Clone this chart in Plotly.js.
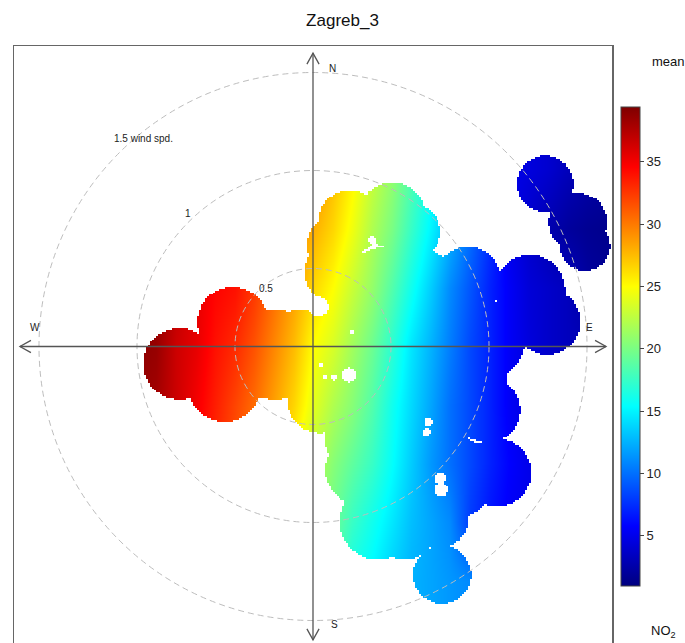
<!DOCTYPE html>
<html>
<head>
<meta charset="utf-8">
<script src="https://cdn.plot.ly/plotly-3.0.1.min.js"></script>
<style>html,body{margin:0;padding:0;overflow:hidden;background:#fff;}#chart{width:685px;height:650px;}</style>
</head>
<body>
<div id="chart"></div>
<script>
// ---- data (display units: 1 unit = radial distance scale) ----
const titleText = "Zagreb_3";
const gridX = [-0.9,-0.8,-0.7,-0.6,-0.5,-0.4,-0.3,-0.2,-0.1,0,0.1,0.2,0.3,0.4,0.5,0.6,0.7,0.8,0.9,1.0,1.1,1.2,1.3,1.4,1.5];
const gridY = [0.9,0.6,0.3,0,-0.3,-0.6,-0.9,-1.2];
const row09 = [39,38,37,36,35,34.5,33.5,32,30.5,29.5,27.5,25.5,23,21,18.5,16,13.5,11,8.5,5,4.5,4,3.2,2.6,2.3];
const row06 = [39,38,37,36,35,34.5,33.5,31.5,29.5,28,26.5,24.5,22,20,17.5,15,12.5,10,7.5,5,3.8,2.8,2.1,1.7,1.5];
const row03 = [39,38.5,37,35.5,34.5,34,32.5,30.5,28.5,26.5,25,23,21,18.5,16,13.5,11,9,7,5.5,4.3,3.8,3.3,2.2,1.8];
const row00 = [39,38.5,36.5,35.5,34,33,31.5,29.5,27.5,25,23.5,21.5,19.5,17,14.5,12.5,10.5,8.5,7,5.5,4.5,3.8,3.3,3,2.8];
const rowM03 = [38.5,38,36.5,35,33.5,32,30.5,28.5,26.5,24,22,20.5,18.5,16,14,12,10,8.5,7,5.5,4.5,4,3.5,3,2.8];
const rowM06 = [38.5,38,36,34.5,33,31.5,29.5,27.5,25,22.5,20.5,19,17.5,15.5,13.5,11.5,10,8.5,7,5.8,5,4.3,3.8,3.3,3];
const rowM09 = [38,37,35.5,34,32.5,30.5,28.5,26,23.5,21,19.5,17.5,16,14.5,13,12,11,8,6.5,5.5,5,4.5,4,3.5,3.2];
const rowM12 = [37.5,36.5,35,33.5,32,30,28,25.5,23,20.5,18.5,16,15,13.5,12.5,12,11.5,11,8,6.5,5.5,5,4.5,4,3.5];
// covered region: union of discs minus small holes
const blobX = [-0.679,-0.408,-0.449,-0.194,-0.066,0.189,0.403,0.505,0.122,0.444,0.791,1.107,1.194,0.878,0.827,0.888,0.939,0.658,0.648,0.240,0.240,0.332,0.036,0.495,1.184,1.352,1.388,0.724,0.469,0.112,0.112,0.469];
const blobY = [-0.089,0.125,-0.196,-0.043,0.033,0.635,0.671,0.584,0.380,0.084,0.339,0.288,0.125,0.033,-0.145,-0.324,-0.645,-1.166,-0.885,-0.477,-0.630,-0.895,-0.273,-0.375,0.829,0.635,0.513,-0.671,-0.936,0.518,0.237,-0.709];
const blobR = [0.184,0.179,0.189,0.230,0.153,0.163,0.168,0.143,0.163,0.434,0.168,0.179,0.168,0.204,0.163,0.168,0.173,0.148,0.143,0.179,0.179,0.194,0.168,0.306,0.143,0.148,0.128,0.204,0.153,0.143,0.102,0.153];
const holeX = [0.301,0.184,0.102,0.061,0.199,0.587,0.577,0.648,0.653,0.026];
const holeY = [0.543,-0.145,-0.156,-0.156,0.074,-0.385,-0.436,-0.671,-0.732,0.202];
const holeR = [0.02,0.036,0.015,0.013,0.01,0.02,0.02,0.031,0.036,0.051];
const circleSpeeds = [0.5, 1, 1.5];
const speedOffset = 0.102;
const colorbarTicks = [5,10,15,20,25,30,35];
const zMin = 0.96, zMax = 39.4;
const compass = ["N","E","S","W"];

// ---- build traces ----
const zGrid = [row09,row06,row03,row00,rowM03,rowM06,rowM09,rowM12];
const jet = [[0,'#00007F'],[0.125,'#0000FF'],[0.25,'#007FFF'],[0.375,'#00FFFF'],[0.5,'#7FFF7F'],[0.625,'#FFFF00'],[0.75,'#FF7F00'],[0.875,'#FF0000'],[1,'#7F0000']];

const mX = [], mY = [];
for (let i = 0; i <= 251; i++) mX.push(+(-0.955 + i*0.01).toFixed(3));
for (let j = 0; j <= 243; j++) mY.push(+(-1.36 + j*0.01).toFixed(3));
const mZ = mY.map(y => mX.map(x => {
  let inside = false;
  for (let k = 0; k < blobX.length; k++) {
    const dx = x-blobX[k], dy = y-blobY[k];
    if (dx*dx+dy*dy <= blobR[k]*blobR[k]) { inside = true; break; }
  }
  if (inside) {
    for (let k = 0; k < holeX.length; k++) {
      const dx = x-holeX[k], dy = y-holeY[k];
      if (dx*dx+dy*dy <= holeR[k]*holeR[k]) { inside = false; break; }
    }
  }
  return inside ? null : 1;
}));

const traces = [
  {type:'heatmap', x:gridX, y:gridY, z:zGrid, zsmooth:'best', colorscale:jet, zmin:zMin, zmax:zMax,
   hoverinfo:'skip',
   colorbar:{x:(621-14)/598, xanchor:'left', xpad:0, y:(644-346.5)/598, yanchor:'middle', ypad:0,
     lenmode:'pixels', len:479, thickness:19, outlinewidth:1, outlinecolor:'#444',
     tickmode:'array', tickvals:colorbarTicks, ticks:'outside', ticklen:4, tickwidth:1, tickcolor:'#444',
     tickfont:{size:13, color:'#222'}}},
  {type:'heatmap', x:mX, y:mY, z:mZ, zsmooth:false, colorscale:[[0,'#ffffff'],[1,'#ffffff']],
   showscale:false, hoverinfo:'skip'}
];

const shapes = [];
circleSpeeds.forEach(s => {
  const u = s - speedOffset;
  shapes.push({type:'circle', xref:'x', yref:'y', x0:-u, x1:u, y0:-u, y1:u, layer:'above',
    line:{color:'#BDBDBD', width:1, dash:'6px,4px'}});
});
const axLine = {color:'#555', width:1.3};
const tipH = 1.495, tipV = 1.497, aL = 0.056, aW = 0.031;
shapes.push({type:'line', xref:'x', yref:'y', x0:-tipH, x1:tipH, y0:0, y1:0, layer:'above', line:axLine});
shapes.push({type:'line', xref:'x', yref:'y', x0:0, x1:0, y0:-tipV, y1:tipV, layer:'above', line:axLine});
function head(tx, ty, dx, dy) {
  const bx = tx - dx*aL, by = ty - dy*aL;
  const px = -dy*aW, py = dx*aW;
  return {type:'path', xref:'x', yref:'y', layer:'above', line:axLine,
    path:`M${bx+px},${by+py} L${tx},${ty} L${bx-px},${by-py}`};
}
shapes.push(head(tipH,0,1,0), head(-tipH,0,-1,0), head(0,tipV,0,1), head(0,-tipV,0,-1));

const lblFont = {size:10, color:'#222', family:'Liberation Sans, Arial, sans-serif'};
const annotations = [
  {x:0.102, y:1.416, text:compass[0]},
  {x:1.413, y:0.099, text:compass[1]},
  {x:0.112, y:-1.416, text:compass[2]},
  {x:-1.418, y:0.099, text:compass[3]},
  {x:-0.867, y:1.059, text:circleSpeeds[2] + ' wind spd.'},
  {x:-0.638, y:0.681, text:String(circleSpeeds[1])},
  {x:-0.240, y:0.298, text:String(circleSpeeds[0])}
].map(a => Object.assign({xref:'x', yref:'y', showarrow:false, xanchor:'center', yanchor:'middle', font:lblFont}, a));
annotations.push({xref:'paper', yref:'paper', x:(668-14)/598, y:(644-62)/598, xanchor:'center', yanchor:'middle',
  text:'mean', showarrow:false, font:{size:13, color:'#111'}});
annotations.push({xref:'paper', yref:'paper', x:(663-14)/598, y:(644-631)/598, xanchor:'center', yanchor:'middle',
  text:'NO<sub>2</sub>', showarrow:false, font:{size:13, color:'#111'}});

const axis = {showgrid:false, zeroline:false, showticklabels:false, ticks:'', showline:true, mirror:true,
  linecolor:'#666', linewidth:1.5, fixedrange:true};
const layout = {
  width:685, height:650,
  margin:{l:14, r:73, t:46, b:6, pad:0},
  paper_bgcolor:'#fff', plot_bgcolor:'#fff',
  font:{family:'Liberation Sans, Arial, sans-serif', color:'#111'},
  title:{text:titleText, x:0.5, xref:'container', y:1-20/650, yref:'container', yanchor:'middle', font:{size:17, color:'#111'}},
  xaxis:Object.assign({range:[-1.5255,1.5255]}, axis),
  yaxis:Object.assign({range:[-1.5179,1.5332]}, axis),
  shapes:shapes, annotations:annotations, showlegend:false
};
Plotly.newPlot('chart', traces, layout, {staticPlot:true, displayModeBar:false});
</script>
</body>
</html>
